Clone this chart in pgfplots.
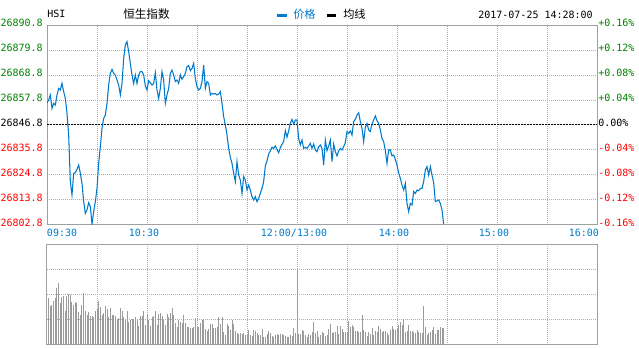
\documentclass[border=0pt]{standalone}
\usepackage{pgfplots}
\pgfplotsset{compat=1.18}
\usepackage{pgfplotstable}
\usepackage{fontspec}
\setmainfont{DejaVu Sans Mono}
\newfontfamily\monof{DejaVu Sans Mono}
\newfontfamily\cjk{Noto Sans CJK SC}
\definecolor{lineblue}{RGB}{0,122,204}
\definecolor{tgreen}{RGB}{0,128,0}
\definecolor{tred}{RGB}{255,0,0}
\definecolor{gridgray}{RGB}{175,175,175}
\definecolor{framegray}{RGB}{160,160,160}
\definecolor{volgray}{RGB}{155,155,155}
\newcommand{\tf}{\monof\fontsize{7.5pt}{8pt}\selectfont}

\pgfplotstableread[row sep=\\]{
t p\\
0 26856.6\\ 1 26857.8\\ 2 26860.0\\ 3 26854.1\\ 4 26856.3\\ 5 26855.6\\ 6 26860.0\\ 7 26862.9\\ 8 26862.2\\ 9 26865.1\\
10 26861.5\\ 11 26858.5\\ 12 26851.9\\ 13 26842.4\\ 14 26821.9\\ 15 26816.0\\ 16 26825.5\\ 17 26825.8\\ 18 26827.3\\ 19 26829.2\\
20 26825.5\\ 21 26821.1\\ 22 26813.1\\ 23 26807.9\\ 24 26809.4\\ 25 26812.6\\ 26 26810.9\\ 27 26803.2\\ 28 26808.7\\ 29 26813.1\\
30 26818.9\\ 31 26829.9\\ 32 26837.3\\ 33 26845.3\\ 34 26849.7\\ 35 26851.2\\ 36 26856.3\\ 37 26864.4\\ 38 26869.5\\ 39 26871.3\\
40 26869.5\\ 41 26868.8\\ 42 26866.6\\ 43 26864.4\\ 44 26860.0\\ 45 26865.1\\ 46 26876.1\\ 47 26882.0\\ 48 26883.5\\ 49 26879.1\\
50 26873.9\\ 51 26868.8\\ 52 26865.1\\ 53 26868.8\\ 54 26865.1\\ 55 26868.8\\ 56 26870.3\\ 57 26870.3\\ 58 26868.8\\ 59 26864.0\\
60 26862.2\\ 61 26866.3\\ 62 26865.4\\ 63 26864.4\\ 64 26865.1\\ 65 26869.8\\ 66 26862.2\\ 67 26858.5\\ 68 26862.9\\ 69 26870.3\\
70 26866.6\\ 71 26856.3\\ 72 26860.0\\ 73 26862.9\\ 74 26869.5\\ 75 26871.0\\ 76 26868.8\\ 77 26865.9\\ 78 26866.6\\ 79 26865.1\\
80 26868.8\\ 81 26866.9\\ 82 26868.1\\ 83 26869.5\\ 84 26872.5\\ 85 26872.9\\ 86 26870.7\\ 87 26871.7\\ 88 26873.9\\ 89 26867.3\\
90 26863.7\\ 91 26862.2\\ 92 26862.9\\ 93 26865.9\\ 94 26873.2\\ 95 26862.9\\ 96 26865.9\\ 97 26865.1\\ 98 26860.0\\ 99 26860.7\\
100 26860.4\\ 101 26860.7\\ 102 26860.0\\ 103 26860.4\\ 104 26861.5\\ 105 26856.3\\ 106 26850.5\\ 107 26846.8\\ 108 26842.4\\ 109 26836.5\\
110 26832.6\\ 111 26829.9\\ 112 26825.5\\ 113 26821.9\\ 114 26830.7\\ 115 26824.8\\ 116 26822.6\\ 117 26816.7\\ 118 26824.1\\ 119 26822.6\\
120 26818.2\\ 121 26820.4\\ 122 26818.2\\ 123 26815.3\\ 124 26813.8\\ 125 26815.3\\ 126 26813.1\\ 127 26814.5\\ 128 26816.7\\ 129 26818.9\\
130 26821.9\\ 131 26828.8\\ 132 26831.0\\ 133 26834.0\\ 134 26835.4\\ 135 26837.0\\ 136 26836.5\\ 137 26837.6\\ 138 26836.1\\ 139 26834.6\\
140 26836.8\\ 141 26838.3\\ 142 26839.5\\ 143 26844.3\\ 144 26841.4\\ 145 26844.3\\ 146 26847.5\\ 147 26849.3\\ 148 26847.2\\ 149 26849.0\\
150 26849.0\\ 151 26840.9\\ 152 26838.0\\ 153 26840.2\\ 154 26836.5\\ 155 26837.0\\ 156 26836.5\\ 157 26837.6\\ 158 26838.7\\ 159 26836.5\\
160 26838.4\\ 161 26835.8\\ 162 26835.1\\ 163 26837.3\\ 164 26838.0\\ 165 26836.5\\ 166 26829.2\\ 167 26840.2\\ 168 26835.5\\ 169 26837.6\\
170 26840.2\\ 171 26830.7\\ 172 26838.4\\ 173 26835.1\\ 174 26833.2\\ 175 26835.4\\ 176 26836.5\\ 177 26835.8\\ 178 26837.3\\ 179 26839.0\\
180 26843.9\\ 181 26843.1\\ 182 26844.2\\ 183 26842.4\\ 184 26848.3\\ 185 26849.3\\ 186 26851.2\\ 187 26852.2\\ 188 26848.3\\ 189 26845.3\\
190 26839.5\\ 191 26845.8\\ 192 26847.5\\ 193 26844.6\\ 194 26843.9\\ 195 26847.2\\ 196 26849.0\\ 197 26850.8\\ 198 26848.7\\ 199 26847.5\\
200 26844.6\\ 201 26840.9\\ 202 26839.5\\ 203 26835.5\\ 204 26829.9\\ 205 26835.8\\ 206 26835.8\\ 207 26833.2\\ 208 26833.6\\ 209 26831.7\\
210 26829.2\\ 211 26825.8\\ 212 26823.3\\ 213 26820.4\\ 214 26818.2\\ 215 26821.1\\ 216 26812.3\\ 217 26808.7\\ 218 26812.3\\ 219 26811.6\\
220 26817.5\\ 221 26816.7\\ 222 26818.2\\ 223 26817.9\\ 224 26818.9\\ 225 26818.9\\ 226 26821.9\\ 227 26827.0\\ 228 26828.5\\ 229 26824.8\\
230 26828.5\\ 231 26824.8\\ 232 26821.4\\ 233 26813.1\\ 234 26813.4\\ 235 26813.8\\ 236 26812.3\\ 237 26809.4\\ 238 26803.2\\
}\pricetable

\pgfplotstableread[row sep=\\]{
t v\\
1 47.3\\ 2 39.3\\ 3 40\\ 4 44\\ 5 46.7\\ 6 56.7\\ 7 62\\ 8 42.3\\ 9 48.3\\ 10 49.3\\
11 34\\ 12 48.7\\ 13 51.3\\ 14 50.3\\ 15 43.3\\ 16 40.3\\ 17 43\\ 18 42.3\\ 19 33.3\\ 20 30.3\\
21 40\\ 22 52\\ 23 34\\ 24 30.3\\ 25 32.7\\ 26 28.7\\ 27 28.7\\ 28 28.3\\ 29 34\\ 30 35.7\\
31 44.3\\ 32 38\\ 33 30\\ 34 32.3\\ 35 39\\ 36 36.3\\ 37 28.3\\ 38 37\\ 39 30\\ 40 30\\
41 29\\ 42 25\\ 43 26.7\\ 44 36.7\\ 45 34.3\\ 46 28.3\\ 47 25\\ 48 34\\ 49 23\\ 50 25\\
51 25.7\\ 52 26\\ 53 28\\ 54 24.7\\ 55 19\\ 56 29.3\\ 57 28.7\\ 58 34\\ 59 20.3\\ 60 31.3\\
61 25\\ 62 19\\ 63 28.3\\ 64 29\\ 65 34\\ 66 20\\ 67 30.7\\ 68 31.7\\ 69 29\\ 70 25\\
71 20\\ 72 31\\ 73 28.3\\ 74 31.7\\ 75 36.7\\ 76 30\\ 77 21.7\\ 78 17.7\\ 79 25\\ 80 23.3\\
81 21.7\\ 82 30\\ 83 21.7\\ 84 18.3\\ 85 18.3\\ 86 16.7\\ 87 17.3\\ 88 17.7\\ 89 26.7\\ 90 19\\
91 17.7\\ 92 21.7\\ 93 25\\ 94 25.7\\ 95 15.7\\ 96 14.3\\ 97 15.7\\ 98 21\\ 99 21\\ 100 16.7\\
101 16.7\\ 102 18.3\\ 103 28.3\\ 104 21\\ 105 28.3\\ 106 13.3\\ 107 10\\ 108 21\\ 109 19\\ 110 15\\
111 25\\ 112 21\\ 113 14.3\\ 114 11.7\\ 115 11\\ 116 12.3\\ 117 11\\ 118 11.7\\ 119 10\\ 120 10\\
121 15\\ 122 10\\ 123 9\\ 124 15\\ 125 14.3\\ 126 12.3\\ 127 10\\ 128 10\\ 129 16\\ 130 8.3\\
131 7.7\\ 132 11\\ 133 14\\ 134 12.3\\ 135 9\\ 136 7.7\\ 137 10\\ 138 11\\ 139 10\\ 140 11\\
141 10.7\\ 142 10\\ 143 9\\ 144 7.7\\ 145 8.3\\ 146 10\\ 147 9\\ 148 16.7\\ 149 11.7\\ 150 74.3\\
151 11\\ 152 11\\ 153 15\\ 154 14\\ 155 10\\ 156 7.7\\ 157 11\\ 158 10\\ 159 13.3\\ 160 23.3\\
161 11.7\\ 162 14\\ 163 7.7\\ 164 10\\ 165 12.7\\ 166 11.7\\ 167 9\\ 168 10\\ 169 16\\ 170 21\\
171 11.7\\ 172 13.3\\ 173 13.3\\ 174 19\\ 175 11\\ 176 19\\ 177 16\\ 178 13.3\\ 179 13.3\\ 180 13.3\\
181 24\\ 182 18.3\\ 183 20\\ 184 17.7\\ 185 14.3\\ 186 14.3\\ 187 13.3\\ 188 13.3\\ 189 30\\ 190 15\\
191 13.3\\ 192 9\\ 193 13.3\\ 194 11\\ 195 16.7\\ 196 10\\ 197 14.3\\ 198 13.3\\ 199 19\\ 200 16\\
201 13.3\\ 202 14.3\\ 203 14.3\\ 204 12.3\\ 205 10\\ 206 15\\ 207 19\\ 208 16\\ 209 15\\ 210 15.7\\
211 20\\ 212 23.3\\ 213 20\\ 214 26\\ 215 13.3\\ 216 14.3\\ 217 20\\ 218 14.3\\ 219 14.3\\ 220 13.3\\
221 12.3\\ 222 15\\ 223 13.3\\ 224 12.3\\ 225 11.7\\ 226 39\\ 227 17.7\\ 228 10\\ 229 11.7\\ 230 13.3\\
231 15\\ 232 17.7\\ 233 11\\ 234 15\\ 235 15\\ 236 17.7\\ 237 16.7\\ 238 16.7\\
}\voltable

\pgfplotsset{
  gridstyle/.style={gridgray, line width=0.75pt, dash pattern=on 0.75pt off 0.75pt},
}

\begin{document}
\begin{tikzpicture}
\path[use as bounding box] (0,0) rectangle (479.25pt,261pt);

% main price axis
\begin{axis}[
  at={(35.25pt,92.25pt)}, anchor=south west,
  width=412.5pt, height=150pt, scale only axis,
  xmin=0, xmax=330, ymin=26802.8, ymax=26890.8,
  scaled y ticks=false, scaled x ticks=false,
  axis line style={framegray, line width=0.75pt},
  xtick={0,60,150,210,270,330},
  minor xtick={30,90,120,180,240,300},
  xticklabels={{\makebox[0pt][l]{\kern2.25pt 09:30}},10:30,12:00/13:00,14:00,15:00,{\makebox[0pt][r]{16:00\kern-3.75pt}}},
  ytick={26802.8,26813.8,26824.8,26835.8,26846.8,26857.8,26868.8,26879.8,26890.8},
  yticklabels={\textcolor{tred}{26802.8},\textcolor{tred}{26813.8},\textcolor{tred}{26824.8},\textcolor{tred}{26835.8},\textcolor{black}{26846.8},\textcolor{tgreen}{26857.8},\textcolor{tgreen}{26868.8},\textcolor{tgreen}{26879.8},\textcolor{tgreen}{26890.8}},
  xticklabel style={font=\tf, text=lineblue, anchor=north, inner sep=0pt, yshift=-3pt, xshift=-2.25pt},
  yticklabel style={font=\tf, anchor=east, inner sep=0pt, xshift=-3pt, yshift=1.9pt},
  major tick length=0pt, minor tick length=0pt,
  tick style={draw=none},
  grid=both,
  major grid style={gridstyle},
  minor grid style={gridstyle},
  clip=true,
]
\addplot[black, line width=0.75pt, dash pattern=on 1.5pt off 0.75pt, forget plot] coordinates {(0,26846.8) (330,26846.8)};
\addplot[lineblue, line width=0.8pt, no marks, line join=miter] table[x=t,y=p]{\pricetable};
\end{axis}

% right percentage labels
\begin{axis}[
  at={(35.25pt,92.25pt)}, anchor=south west,
  width=412.5pt, height=150pt, scale only axis,
  xmin=0, xmax=330, ymin=26802.8, ymax=26890.8,
  scaled y ticks=false, scaled x ticks=false,
  axis x line=none, axis y line*=right,
  axis line style={framegray, line width=0.75pt},
  ytick={26802.8,26813.8,26824.8,26835.8,26846.8,26857.8,26868.8,26879.8,26890.8},
  yticklabels={\textcolor{tred}{-0.16\%},\textcolor{tred}{-0.12\%},\textcolor{tred}{-0.08\%},\textcolor{tred}{-0.04\%},\textcolor{black}{0.00\%},\textcolor{tgreen}{+0.04\%},\textcolor{tgreen}{+0.08\%},\textcolor{tgreen}{+0.12\%},\textcolor{tgreen}{+0.16\%}},
  yticklabel style={font=\tf, anchor=west, inner sep=0pt, xshift=0.75pt, yshift=1.9pt},
  major tick length=0pt, tick style={draw=none},
]
\addplot[draw=none, forget plot] coordinates {(0,26846.8)};
\end{axis}

% volume axis
\begin{axis}[
  at={(35.25pt,2.25pt)}, anchor=south west,
  width=412.5pt, height=75pt, scale only axis,
  xmin=0, xmax=330, ymin=0, ymax=100,
  axis line style={framegray, line width=0.75pt},
  xtick={30,60,...,300}, ytick={25,50,75},
  xticklabels={}, yticklabels={},
  major tick length=0pt, tick style={draw=none},
  grid=major, major grid style={gridstyle},
]
\addplot[ycomb, volgray, line width=0.75pt, no marks] table[x=t,y=v]{\voltable};
\end{axis}

% header
\node[anchor=west, inner sep=0pt] at (35.25pt,250.5pt) {\tf HSI};
\node[anchor=west, inner sep=0pt] at (92.25pt,250.3pt) {\cjk\fontsize{8.7pt}{9pt}\selectfont 恒生指数};
\draw[lineblue, line width=1.9pt] (207.75pt,249.3pt) -- (215.25pt,249.3pt);
\node[anchor=west, inner sep=0pt] at (219.75pt,250.3pt) {\cjk\fontsize{8.4pt}{9pt}\selectfont\color{lineblue}价格};
\draw[black, line width=1.9pt] (245.25pt,249.3pt) -- (252pt,249.3pt);
\node[anchor=west, inner sep=0pt] at (257.25pt,250.3pt) {\cjk\fontsize{8.4pt}{9pt}\selectfont 均线};
\node[anchor=east, inner sep=0pt] at (444.75pt,249.8pt) {\tf 2017-07-25 14:28:00};
\end{tikzpicture}
\end{document}
